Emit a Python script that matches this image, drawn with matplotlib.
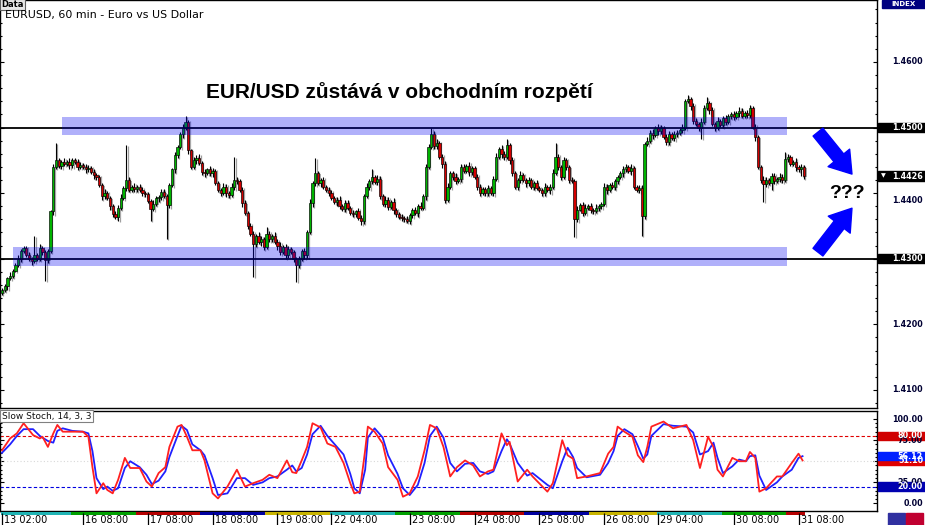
import numpy as np
import matplotlib.pyplot as plt
from matplotlib.patches import Rectangle

# ============================================
# 1. DATA
# ============================================
# close of each 60 min candle, in pips above 1.0000 (4252 -> 1.4252)
first_open = 4248
close_pips = [
    4252, 4258, 4270, 4274, 4281, 4290, 4300, 4312, 4316, 4305,
    4300, 4296, 4305, 4300, 4316, 4310, 4298, 4312, 4372, 4440,
    4450, 4442, 4448, 4445, 4447, 4443, 4450, 4447, 4440, 4443,
    4440, 4436, 4438, 4432, 4428, 4424, 4412, 4395, 4400, 4392,
    4380, 4368, 4364, 4378, 4393, 4408, 4420, 4405, 4410, 4406,
    4410, 4404, 4400, 4398, 4388, 4376, 4384, 4392, 4394, 4402,
    4395, 4382, 4412, 4436, 4458, 4470, 4490, 4500, 4508, 4465,
    4440, 4450, 4454, 4446, 4432, 4430, 4436, 4430, 4434, 4415,
    4405, 4400, 4410, 4400, 4397, 4410, 4420, 4418, 4405, 4385,
    4370, 4350, 4338, 4322, 4335, 4325, 4330, 4318, 4338, 4330,
    4335, 4326, 4320, 4310, 4318, 4305, 4315, 4310, 4300, 4290,
    4300, 4312, 4305, 4340, 4385, 4415, 4430, 4415, 4420, 4410,
    4405, 4400, 4393, 4386, 4390, 4380, 4376, 4385, 4378, 4370,
    4368, 4372, 4362, 4357, 4395, 4410, 4418, 4424, 4417, 4422,
    4395, 4384, 4390, 4379, 4387, 4374, 4368, 4364, 4362, 4360,
    4358, 4366, 4374, 4370, 4380, 4378, 4395, 4440, 4470, 4490,
    4472, 4476, 4455, 4445, 4390, 4410, 4430, 4425, 4418, 4422,
    4440, 4434, 4441, 4432, 4438, 4424, 4410, 4400, 4406, 4400,
    4408, 4400, 4422, 4455, 4468, 4460, 4455, 4474, 4450, 4430,
    4410, 4420, 4427, 4420, 4415, 4420, 4410, 4415, 4408, 4404,
    4400, 4410, 4404, 4410, 4430, 4455, 4440, 4424, 4450, 4440,
    4420, 4418, 4360, 4375, 4382, 4370, 4378, 4381, 4375, 4372,
    4378, 4380, 4384, 4410, 4405, 4412, 4410, 4418, 4425, 4430,
    4436, 4440, 4434, 4438, 4410, 4405, 4408, 4365, 4475, 4480,
    4492, 4488, 4500, 4494, 4500, 4485, 4478, 4490, 4484, 4490,
    4492, 4496, 4500, 4540, 4543, 4533, 4510, 4505, 4500, 4508,
    4530, 4538, 4526, 4505, 4500, 4510, 4504, 4514, 4508, 4518,
    4520, 4516, 4522, 4525, 4518, 4522, 4519, 4530, 4500, 4485,
    4440, 4420, 4414, 4420, 4415, 4426, 4418, 4422, 4425, 4420,
    4452, 4455, 4445, 4447, 4440, 4436, 4440, 4426,
]
# wick lengths in pips above / below the body
upper_wick = [
    3, 4, 2, 5, 3, 4, 6, 3, 4, 3,   5, 3, 29, 4, 6, 3, 4, 3, 2, 4,
    27, 4, 3, 5, 3, 6, 4, 3, 5, 4,  3, 4, 5, 3, 4, 2, 4, 3, 6, 3,
    4, 3, 5, 4, 6, 3, 54, 4, 3, 5,  3, 4, 6, 3, 4, 3, 5, 4, 3, 4,
    5, 3, 4, 3, 5, 4, 3, 6, 10, 4,  3, 5, 4, 6, 3, 4, 3, 5, 4, 3,
    4, 3, 5, 4, 3, 6, 35, 4, 3, 5,  4, 3, 5, 4, 3, 6, 4, 3, 11, 4,
    3, 5, 4, 6, 3, 4, 5, 3, 4, 3,   4, 3, 5, 4, 6, 3, 23, 4, 3, 5,
    3, 4, 5, 3, 4, 6, 3, 4, 5, 3,   4, 3, 5, 4, 3, 5, 4, 13, 3, 5,
    4, 3, 6, 4, 3, 5, 4, 3, 4, 3,   5, 4, 3, 5, 4, 6, 3, 4, 5, 10,
    4, 6, 3, 5, 4, 5, 3, 4, 6, 3,   4, 5, 3, 6, 4, 3, 5, 4, 3, 4,
    5, 3, 4, 6, 3, 5, 4, 8, 3, 5,   4, 3, 6, 4, 3, 5, 3, 4, 5, 3,
    4, 5, 3, 4, 6, 21, 4, 3, 5, 4,  3, 5, 4, 6, 3, 4, 5, 3, 4, 3,
    5, 4, 3, 6, 4, 3, 5, 4, 3, 4,   5, 4, 3, 6, 4, 3, 5, 4, 3, 6,
    4, 5, 3, 6, 4, 3, 5, 4, 3, 5,   4, 3, 5, 4, 7, 3, 5, 4, 3, 6,
    4, 9, 3, 5, 4, 6, 3, 4, 5, 3,   4, 5, 3, 6, 4, 3, 5, 4, 3, 5,
    4, 3, 6, 4, 3, 5, 4, 3, 5, 4,   10, 5, 3, 4, 6, 3, 4, 3,
]
lower_wick = [
    4, 3, 5, 3, 4, 2, 3, 5, 4, 3,   4, 5, 3, 4, 3, 5, 32, 4, 3, 5,
    4, 3, 5, 4, 3, 6, 4, 3, 5, 4,   3, 5, 4, 3, 6, 4, 3, 5, 4, 3,
    5, 4, 3, 6, 4, 3, 5, 4, 3, 5,   4, 3, 5, 4, 3, 19, 4, 3, 5, 4,
    3, 52, 4, 3, 5, 4, 3, 6, 4, 5,  3, 4, 5, 3, 4, 6, 3, 4, 5, 3,
    4, 5, 3, 6, 4, 3, 5, 4, 3, 6,   4, 5, 3, 50, 4, 3, 5, 4, 3, 5,
    4, 3, 6, 4, 3, 5, 4, 3, 5, 25,  4, 3, 5, 4, 3, 6, 4, 3, 5, 4,
    3, 5, 4, 3, 6, 4, 3, 5, 4, 3,   5, 4, 3, 6, 4, 3, 5, 4, 3, 5,
    4, 3, 5, 4, 3, 6, 4, 3, 5, 4,   3, 5, 4, 3, 6, 4, 3, 5, 4, 3,
    4, 5, 3, 6, 5, 4, 3, 5, 4, 3,   5, 4, 3, 6, 4, 3, 5, 4, 3, 5,
    4, 3, 5, 4, 3, 6, 4, 3, 5, 4,   3, 5, 4, 3, 6, 4, 3, 5, 4, 3,
    5, 4, 3, 6, 4, 3, 5, 4, 3, 5,   4, 3, 27, 4, 3, 5, 4, 3, 6, 4,
    3, 5, 4, 3, 6, 4, 3, 5, 4, 3,   5, 4, 3, 6, 4, 3, 5, 31, 4, 3,
    4, 5, 3, 6, 4, 3, 5, 4, 3, 5,   4, 3, 5, 4, 3, 6, 4, 3, 5, 17,
    3, 4, 5, 3, 6, 4, 3, 5, 4, 3,   5, 4, 3, 6, 4, 3, 5, 4, 3, 6,
    4, 5, 27, 4, 3, 10, 4, 3, 5, 4, 3, 5, 4, 3, 6, 4, 10, 5,
]

# slow stochastic 14,3,3 read at these candle positions
stoch_bar = [
    0, 3, 5.5, 8, 11.5, 14, 15, 17, 19, 20.5,
    22.5, 26, 30, 32, 33.5, 35, 37.5, 39, 41, 43,
    45.5, 47.5, 51, 53.5, 55.5, 58, 60.5, 62, 65, 66.5,
    68.5, 70.5, 73.5, 75, 78, 80, 83.5, 87, 90, 93,
    96.5, 99, 102, 105.5, 107.5, 109, 111, 113, 115, 118,
    120.5, 123.5, 126.5, 129, 130.5, 132.5, 134.5, 135.5, 138, 141,
    143, 146.5, 148.5, 151, 154, 156.5, 158.5, 161, 163.5, 166,
    168.5, 171.5, 174.5, 177, 180, 182, 185, 187, 188, 191,
    194.5, 196.5, 202, 204, 207.5, 209.5, 211.5, 213, 216.5, 221.5,
    224.5, 226.5, 228, 230.5, 233.5, 235.5, 237.5, 239, 240.5, 245,
    248.5, 253.5, 256, 258.5, 261.5, 263.5, 265, 267, 270.5, 273,
    275.5, 277, 279, 280.5, 283, 287, 289, 292.5, 295, 296.5,
]
stoch_main = [
    63, 77, 83, 95, 81, 77, 79, 67, 83, 93,
    85, 85, 85, 79, 43, 12, 24, 16, 12, 28,
    54, 42, 42, 26, 20, 36, 43, 67, 91, 93,
    79, 63, 63, 51, 12, 6, 20, 40, 20, 24,
    28, 34, 30, 51, 37, 36, 51, 67, 95, 90,
    71, 67, 48, 24, 12, 14, 63, 91, 85, 71,
    43, 28, 8, 12, 32, 63, 93, 89, 67, 32,
    43, 51, 45, 32, 38, 40, 83, 69, 73, 26,
    40, 32, 14, 24, 75, 57, 53, 30, 32, 36,
    59, 67, 91, 85, 79, 57, 49, 67, 91, 97,
    89, 93, 75, 42, 79, 67, 40, 32, 54, 50,
    50, 61, 54, 14, 18, 32, 32, 48, 59, 51,
]
stoch_signal = [
    60, 70, 80, 88, 88, 80, 78, 74, 72, 86,
    89, 86, 85, 83, 62, 30, 17, 20, 15, 18,
    42, 50, 43, 34, 23, 27, 38, 55, 80, 92,
    87, 70, 63, 57, 30, 10, 12, 30, 30, 22,
    25, 30, 32, 40, 45, 38, 42, 58, 82, 92,
    80, 69, 58, 35, 18, 12, 40, 78, 89, 78,
    57, 35, 18, 10, 22, 48, 80, 91, 78, 48,
    38, 47, 48, 38, 35, 38, 62, 76, 71, 48,
    33, 36, 22, 18, 50, 66, 55, 42, 31, 34,
    48, 62, 80, 88, 82, 68, 53, 58, 80, 94,
    92, 91, 84, 58, 62, 72, 54, 36, 44, 52,
    50, 56, 57, 33, 16, 25, 32, 40, 54, 56,
]

time_pos = [0, 30, 54, 78, 102, 122, 151, 175, 199, 223, 243, 271, 295]
time_lbl = ['13 02:00', '16 08:00', '17 08:00', '18 08:00', '19 08:00',
            '22 04:00', '23 08:00', '24 08:00', '25 08:00', '26 08:00',
            '29 04:00', '30 08:00', '31 08:00']
day_start = [0, 26, 50, 74, 98, 122, 146, 170, 194, 218, 243, 267, 291, 298]
day_colors = ['#20b4b4', '#00a000', '#b40000', '#0000a0', '#c8b400']

price_ticks = [1.4600, 1.4400, 1.4200, 1.4100]
res_level, sup_level = 1.4500, 1.4300
res_band = (1.4489, 1.4516)
sup_band = (1.4289, 1.4318)
res_band_bars = (22.2, 290.7)
sup_band_bars = (4.1, 290.7)
last_price = 1.4426
stoch_k_last, stoch_d_last = 51.10, 56.12

title = 'EUR/USD zůstává v obchodním rozpětí'

# ============================================
# 2. PREP
# ============================================
idx = np.arange(len(close_pips))
c = 1 + np.array(close_pips) / 1e4
o = 1 + np.array([first_open] + close_pips[:-1]) / 1e4
hi = np.maximum(o, c) + np.array(upper_wick) / 1e4
lo = np.minimum(o, c) - np.array(lower_wick) / 1e4
body = np.maximum(np.abs(c - o), 0.00008)
cols = np.where(c >= o, '#00b400', '#d40000')

W, H = 925, 525
fig = plt.figure(figsize=(W / 100, H / 100), dpi=100)


def box(x0, y0, x1, y1):
    return [x0 / W, 1 - y1 / H, (x1 - x0) / W, (y1 - y0) / H]


ax = fig.add_axes(box(0, 0, 877, 408))
sax = fig.add_axes(box(0, 411, 877, 511), sharex=ax)
tax = fig.add_axes(box(0, 511, 877, 525), sharex=ax)
rax = fig.add_axes(box(877, 0, 925, 408))
srax = fig.add_axes(box(877, 411, 925, 511))

ax.set_xlim(-0.74, 324.07)
ax.set_ylim(1.40724, 1.46944)
sax.set_ylim(-8.9, 109.5)

# ============================================
# 3. CANDLES
# ============================================
# grey drop shadow
ax.vlines(idx + 0.55, lo - 0.00015, hi - 0.00015, color='#a0a0a0', lw=0.9, zorder=1)
ax.bar(idx + 0.55, body, bottom=np.minimum(o, c) - 0.00015, width=0.85,
       color='#a8a8a8', edgecolor='none', zorder=1)
ax.vlines(idx, lo, hi, color='black', lw=0.8, zorder=2)
ax.bar(idx, body, bottom=np.minimum(o, c), width=0.88, color=cols,
       edgecolor='black', linewidth=0.45, zorder=3)

ax.axhline(res_level, color='black', lw=1.3, zorder=4)
ax.axhline(sup_level, color='black', lw=1.3, zorder=4)
ax.fill_between(res_band_bars, res_band[0], res_band[1], color='#0000f0',
                alpha=0.31, lw=0, zorder=5)
ax.fill_between(sup_band_bars, sup_band[0], sup_band[1], color='#0000f0',
                alpha=0.31, lw=0, zorder=5)

ax.text(147.2, 1.4545, title, ha='center', va='baseline', fontsize=15,
        fontweight='bold', family='Liberation Sans')
ax.text(313.0, 1.43925, '???', ha='center', va='baseline', fontsize=14,
        fontweight='bold', family='Liberation Sans')

arrow = dict(arrowstyle='simple,head_length=0.75,head_width=1.0,tail_width=0.45',
             color='#0000ff', shrinkA=0, shrinkB=0, mutation_scale=20)
ax.annotate('', xy=(314.8, 1.4429), xytext=(302.2, 1.4493), arrowprops=arrow, zorder=6)
ax.annotate('', xy=(314.8, 1.4377), xytext=(302.2, 1.4310), arrowprops=arrow, zorder=6)

ax.set_yticks(np.arange(1.41, 1.4601, 0.01))
ax.set_yticks(np.arange(1.408, 1.4690, 0.002), minor=True)
ax.tick_params(axis='y', which='both', direction='in', left=True, right=True,
               labelleft=False, labelright=False, width=0.8)
ax.tick_params(axis='y', which='major', length=3)
ax.tick_params(axis='y', which='minor', length=1.6)
ax.tick_params(axis='x', which='both', bottom=False, labelbottom=False)

# ============================================
# 4. STOCHASTIC
# ============================================
sax.axhline(80, color='#e00000', lw=0.8, ls=(0, (3, 2)))
sax.axhline(20, color='#0000e0', lw=0.8, ls=(0, (3, 2)))
sax.axhline(50, color='#d8d8d8', lw=0.8, ls=(0, (1, 2)))
sax.plot(stoch_bar, stoch_signal, color='#2020ff', lw=1.3, zorder=3)
sax.plot(stoch_bar, stoch_main, color='#ff2020', lw=1.3, zorder=4)
sax.set_yticks([0, 25, 50, 75, 100])
sax.set_yticks(np.arange(0, 101, 5), minor=True)
sax.tick_params(axis='y', which='both', direction='in', left=True, right=True,
                labelleft=False, labelright=False, width=0.8)
sax.tick_params(axis='y', which='major', length=3)
sax.tick_params(axis='y', which='minor', length=1.6)
sax.tick_params(axis='x', which='both', bottom=False, labelbottom=False)

fig.text(2 / W, 1 - 416 / H, 'Slow Stoch, 14, 3, 3', fontsize=6.5, va='center',
         color='#101010',
         bbox=dict(boxstyle='square,pad=0.2', fc='white', ec='#808080', lw=0.8))

# ============================================
# 5. TIME AXIS
# ============================================
tax.set_ylim(14, 0)
tax.axis('off')
for k in range(len(day_start) - 1):
    tax.barh(2.2, day_start[k + 1] - day_start[k], left=day_start[k] - 0.5,
             height=3.0, color=day_colors[k % len(day_colors)])
tax.vlines(time_pos, 1.5, 14, color='black', lw=0.9)
for p, s in zip(time_pos, time_lbl):
    tax.text(p + 0.8, 9.0, s, fontsize=7, va='center', ha='left', color='black')

# ============================================
# 6. RIGHT-HAND LABELS
# ============================================
for a in (rax, srax):
    a.set_xlim(0, 48)
    a.axis('off')
rax.set_ylim(ax.get_ylim())
srax.set_ylim(sax.get_ylim())
lab = dict(fontsize=5.8, fontweight='bold', family='DejaVu Sans', va='center', ha='right')

for p in price_ticks:
    # MT4 pushes the 1.4400 label down, out of the way of the last-price box
    shift = -0.0012 if p == 1.44 else 0.0
    rax.text(46, p + shift, f'{p:.4f}', color='#000033', **lab)
for p in (res_level, sup_level):
    rax.add_patch(Rectangle((1, p - 0.00068), 47, 0.00136, color='black'))
    rax.text(46, p, f'{p:.4f}', color='white', **lab)
rax.add_patch(Rectangle((1, last_price - 0.00072), 47, 0.00144, color='black'))
rax.text(46, last_price, f'{last_price:.4f}', color='white', **lab)
rax.text(4, last_price, '▼', color='white', fontsize=4.5, va='center', ha='left')
rax.add_patch(Rectangle((5 / 48, 1 - 8 / 408), 43 / 48, 8 / 408, color='#000080',
                        transform=rax.transAxes))
rax.text(26, 1 - 4 / 408, 'INDEX', color='white', fontsize=5, fontweight='bold',
         ha='center', va='center', transform=rax.get_xaxis_transform())

for v in (100, 75, 25, 0):
    srax.text(46, v, f'{v:.2f}', color='#000033', **lab)
for v, col in ((80, '#d00000'), (stoch_k_last, '#e00000'), (stoch_d_last, '#0020ff'),
               (20, '#0000b0')):
    srax.add_patch(Rectangle((1, v - 5.2), 47, 10.4, color=col))
    srax.text(46, v, f'{v:.2f}', color='white', **lab)

for a in (ax, sax):
    for s in a.spines.values():
        s.set_color('black')
        s.set_linewidth(1.0)

# header
fig.text(1 / W, 1 - 4.5 / H, 'Data', fontsize=6, fontweight='bold', va='center',
         bbox=dict(boxstyle='square,pad=0.15', fc='#e8e8e8', ec='#606060', lw=0.8))
fig.text(5 / W, 1 - 15 / H, 'EURUSD, 60 min - Euro vs US Dollar', fontsize=7.9,
         va='center', color='black')

# small buttons bottom right
fig.patches.append(Rectangle((888 / W, 0), 17 / W, 12 / H, color='#3030a0',
                             transform=fig.transFigure, figure=fig))
fig.patches.append(Rectangle((906 / W, 0), 17 / W, 12 / H, color='#c00030',
                             transform=fig.transFigure, figure=fig))

fig.savefig('out.png', dpi=100)
